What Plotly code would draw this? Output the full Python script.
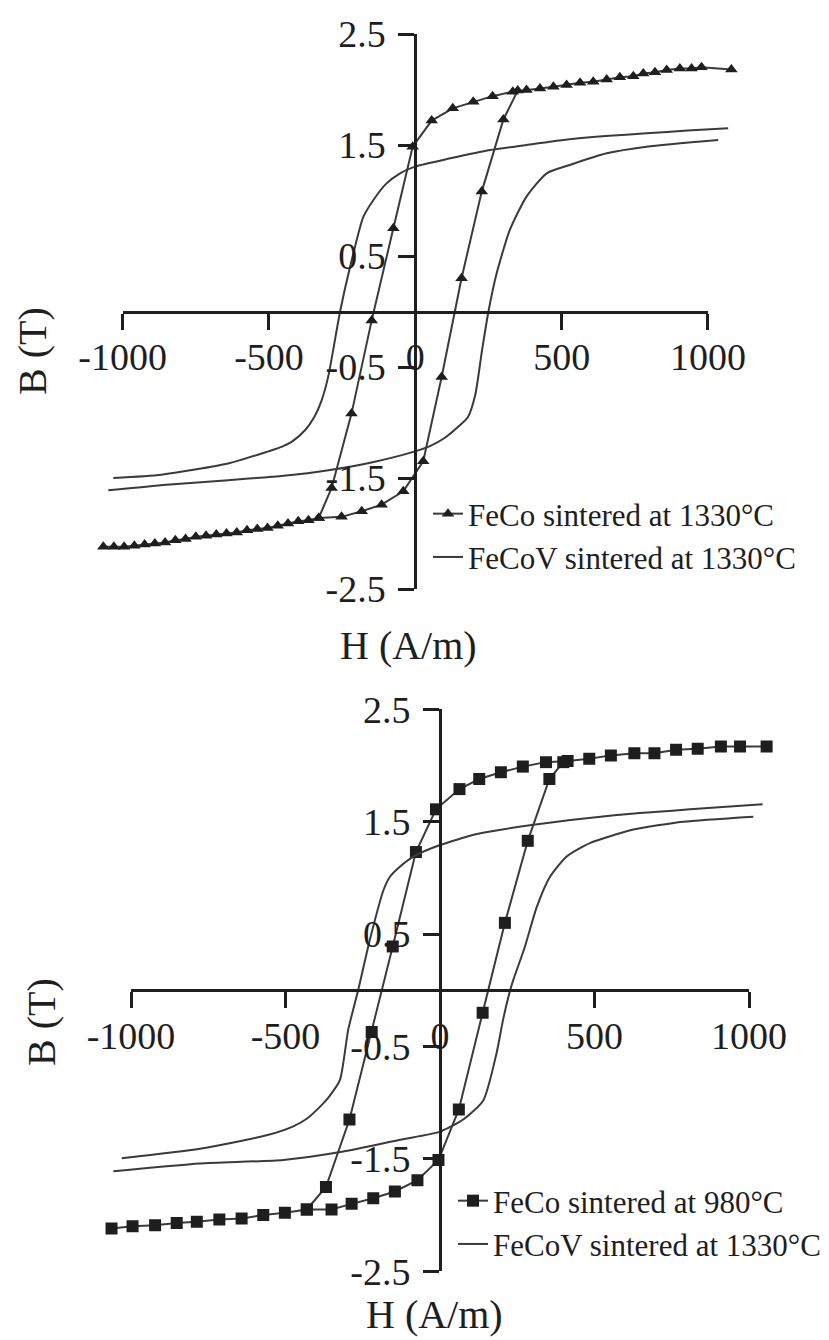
import plotly.graph_objects as go

# ---------------- data ----------------
# Top panel: FeCo sintered at 1330°C (triangles)
top_feco_desc_H = [1080, 978, 944, 904, 859, 819, 779, 745, 699, 654, 608, 563, 517, 472, 426, 380, 333, 264, 198, 128,
                   56, -9, -75, -149, -218, -286, -330, -365, -400, -435, -470, -505, -540, -575, -610, -645, -680, -715,
                   -750, -785, -820, -855, -890, -925, -960, -995, -1030, -1066]
top_feco_desc_B = [2.18, 2.20, 2.19, 2.19, 2.175, 2.155, 2.145, 2.12, 2.11, 2.09, 2.07, 2.06, 2.04, 2.025, 2.01, 1.995, 1.98,
                   1.94, 1.89, 1.83, 1.72, 1.485, 0.75, -0.08, -0.92, -1.59, -1.86, -1.88, -1.89, -1.91, -1.93, -1.95, -1.96,
                   -1.97, -1.99, -2.00, -2.01, -2.02, -2.03, -2.05, -2.06, -2.08, -2.09, -2.10, -2.11, -2.12, -2.12, -2.12]
top_feco_asc_H = [-330, -252, -183, -115, -41, 27, 90, 158, 227, 301, 350]
top_feco_asc_B = [-1.86, -1.85, -1.80, -1.74, -1.62, -1.35, -0.59, 0.30, 1.08, 1.73, 1.99]

# Top panel: FeCoV sintered at 1330°C (line)
top_fecov_desc_H = [1069, 930, 790, 650, 506, 380, 255, 120, -1, -52, -100, -143, -178, -223, -257, -297, -320, -345,
                    -377, -420, -457, -502, -640, -867, -1032]
top_fecov_desc_B = [1.65, 1.63, 1.605, 1.58, 1.545, 1.50, 1.455, 1.38, 1.305, 1.245, 1.15, 1.005, 0.85, 0.40, 0.0, -0.58,
                    -0.80, -0.95, -1.07, -1.17, -1.22, -1.26, -1.37, -1.47, -1.50]
top_fecov_asc_H = [-1049, -850, -639, -450, -297, -150, -1, 52, 100, 150, 180, 205, 228, 250, 278, 323, 380, 449, 528,
                   654, 790, 1035]
top_fecov_asc_B = [-1.61, -1.56, -1.52, -1.48, -1.43, -1.36, -1.26, -1.21, -1.14, -1.03, -0.95, -0.75, -0.35, 0.0, 0.344,
                   0.735, 1.035, 1.245, 1.32, 1.425, 1.485, 1.545]

# Bottom panel: FeCo sintered at 980°C (squares)
bot_feco_desc_H = [1057, 971, 909, 834, 764, 694, 629, 553, 483, 413, 343, 268, 197, 127, 63, -13, -78, -153, -221, -293,
                   -369, -431, -502, -572, -642, -714, -787, -852, -922, -995, -1063]
bot_feco_desc_B = [2.17, 2.17, 2.17, 2.15, 2.14, 2.11, 2.11, 2.09, 2.06, 2.04, 2.03, 1.99, 1.94, 1.88, 1.79, 1.61, 1.23,
                   0.39, -0.37, -1.15, -1.75, -1.95, -1.98, -2.00, -2.03, -2.04, -2.06, -2.07, -2.09, -2.10, -2.12]
bot_feco_asc_H = [-431, -351, -286, -216, -146, -73, -5, 61, 138, 210, 284, 354, 399]
bot_feco_asc_B = [-1.95, -1.95, -1.90, -1.85, -1.79, -1.69, -1.51, -1.06, -0.20, 0.60, 1.33, 1.88, 2.03]

# Bottom panel: FeCoV sintered at 1330°C (line)
bot_fecov_desc_H = [1044, 809, 572, 297, 120, -2, -86, -130, -162, -183, -227, -265, -297, -324, -360, -388, -430, -475,
                    -561, -777, -1030]
bot_fecov_desc_B = [1.655, 1.61, 1.56, 1.47, 1.39, 1.29, 1.19, 1.10, 1.01, 0.89, 0.45, 0.0, -0.35, -0.80, -0.95, -1.035,
                    -1.14, -1.21, -1.29, -1.41, -1.495]
bot_fecov_asc_H = [-1057, -777, -507, -313, -129, -2, 75, 140, 183, 205, 227, 237, 275, 313, 356, 410, 485, 626, 787, 1014]
bot_fecov_asc_B = [-1.61, -1.54, -1.51, -1.435, -1.33, -1.26, -1.15, -0.98, -0.56, -0.25, 0.0, 0.09, 0.39, 0.74, 1.01,
                   1.19, 1.31, 1.43, 1.50, 1.545]

x_tick_vals = [-1000, -500, 0, 500, 1000]
x_tick_text = ["-1000", "-500", "0", "500", "1000"]
y_tick_vals = [2.5, 1.5, 0.5, -0.5, -1.5, -2.5]
y_tick_text = ["2.5", "1.5", "0.5", "-0.5", "-1.5", "-2.5"]

top_names = ["FeCo sintered at 1330°C", "FeCoV sintered at 1330°C"]
bot_names = ["FeCo sintered at 980°C", "FeCoV sintered at 1330°C"]

# ---------------- layout geometry (pixels, in the 829x1340 window) ----------------
OFF = 8                      # default page-body margin
W, H = 829 - OFF, 1340 - OFF  # figure size so it fits the window
FONT = "Liberation Serif"
INK = "#1e1e1e"
LINE = "#3a3a3a"
DATA_XR = [-1150, 1150]
AX_XR = [-1000, 1000]
YR = [-2.5, 2.5]

panels = {
    "top": dict(x0=415.3, sx=0.29265, y0=311.5, sy=111.0),
    "bot": dict(x0=440.0, sx=0.309, y0=990.3, sy=112.4),
}


def fx(px):
    return (px - OFF) / W


def fy(py):
    return 1 - (py - OFF) / H


def geom(p):
    g = panels[p]
    ytop = g["y0"] - YR[1] * g["sy"]
    ybot = g["y0"] - YR[0] * g["sy"]
    return dict(
        ydom=[fy(ybot), fy(ytop)],
        data_xdom=[fx(g["x0"] + DATA_XR[0] * g["sx"]), fx(g["x0"] + DATA_XR[1] * g["sx"])],
        ax_xdom=[fx(g["x0"] + AX_XR[0] * g["sx"]), fx(g["x0"] + AX_XR[1] * g["sx"])],
        xpos=fy(g["y0"]),
        ypos=fx(g["x0"]),
    )


def join(a_h, a_b, b_h, b_b):
    return a_h + [None] + b_h, a_b + [None] + b_b


fig = go.Figure()

# top panel traces
h, b = join(top_feco_desc_H, top_feco_desc_B, top_feco_asc_H, top_feco_asc_B)
fig.add_trace(go.Scatter(x=h, y=b, mode="lines+markers", name=top_names[0], xaxis="x", yaxis="y",
                         line=dict(color=LINE, width=2), marker=dict(symbol="triangle-up", size=11, color=INK),
                         legend="legend", connectgaps=False))
h, b = join(top_fecov_desc_H, top_fecov_desc_B, top_fecov_asc_H, top_fecov_asc_B)
fig.add_trace(go.Scatter(x=h, y=b, mode="lines", name=top_names[1], xaxis="x", yaxis="y",
                         line=dict(color=LINE, width=2, shape="spline", smoothing=0.6),
                         legend="legend", connectgaps=False))
fig.add_trace(go.Scatter(x=[], y=[], xaxis="x2", yaxis="y", showlegend=False, hoverinfo="skip"))

# bottom panel traces
h, b = join(bot_feco_desc_H, bot_feco_desc_B, bot_feco_asc_H, bot_feco_asc_B)
fig.add_trace(go.Scatter(x=h, y=b, mode="lines+markers", name=bot_names[0], xaxis="x3", yaxis="y2",
                         line=dict(color=LINE, width=2), marker=dict(symbol="square", size=12, color=INK),
                         legend="legend2", connectgaps=False))
h, b = join(bot_fecov_desc_H, bot_fecov_desc_B, bot_fecov_asc_H, bot_fecov_asc_B)
fig.add_trace(go.Scatter(x=h, y=b, mode="lines", name=bot_names[1], xaxis="x3", yaxis="y2",
                         line=dict(color=LINE, width=2, shape="spline", smoothing=0.6),
                         legend="legend2", connectgaps=False))
fig.add_trace(go.Scatter(x=[], y=[], xaxis="x4", yaxis="y2", showlegend=False, hoverinfo="skip"))

gt = geom("top")
gb = geom("bot")

tickfont = dict(family=FONT, size=38, color=INK)
common_ax = dict(showgrid=False, zeroline=False, showline=True, linecolor=INK, linewidth=3,
                 ticks="outside", tickcolor=INK, tickwidth=3, ticklen=16, tickfont=tickfont, fixedrange=True)


def xaxis_display(dom, pos):
    return dict(domain=dom, range=AX_XR, autorange=False, anchor="free", position=pos, side="bottom",
                tickmode="array", tickvals=x_tick_vals, ticktext=x_tick_text, ticklabelstandoff=-5, **common_ax)


def yaxis_display(dom, pos):
    return dict(domain=dom, range=YR, autorange=False, anchor="free", position=pos, side="left",
                tickmode="array", tickvals=y_tick_vals, ticktext=y_tick_text, ticklabelstandoff=5, **common_ax)


hidden_x = dict(range=DATA_XR, autorange=False, visible=False, showgrid=False, zeroline=False, fixedrange=True)

legend_font = dict(family=FONT, size=31, color=INK)
fig.update_layout(
    width=W, height=H, autosize=False,
    margin=dict(l=0, r=0, t=0, b=0, pad=0, autoexpand=False),
    paper_bgcolor="white", plot_bgcolor="rgba(0,0,0,0)",
    font=dict(family=FONT, color=INK),
    xaxis=dict(domain=gt["data_xdom"], anchor="y", **hidden_x),
    xaxis2=xaxis_display(gt["ax_xdom"], gt["xpos"]),
    yaxis=yaxis_display(gt["ydom"], gt["ypos"]),
    xaxis3=dict(domain=gb["data_xdom"], anchor="y2", **hidden_x),
    xaxis4=xaxis_display(gb["ax_xdom"], gb["xpos"]),
    yaxis2=yaxis_display(gb["ydom"], gb["ypos"]),
    legend=dict(x=fx(428), y=fy(487), xanchor="left", yanchor="top", bgcolor="rgba(0,0,0,0)",
                font=legend_font, tracegroupgap=0, itemwidth=30),
    legend2=dict(x=fx(453), y=fy(1174), xanchor="left", yanchor="top", bgcolor="rgba(0,0,0,0)",
                 font=legend_font, tracegroupgap=0, itemwidth=30),
    showlegend=True,
)

title_font = dict(family=FONT, size=40, color=INK)
annots = [
    dict(text="B (T)", x=fx(32), y=fy(351), textangle=-90),
    dict(text="H (A/m)", x=fx(408), y=fy(645), textangle=0),
    dict(text="B (T)", x=fx(41), y=fy(1022), textangle=-90),
    dict(text="H (A/m)", x=fx(434), y=fy(1314), textangle=0),
]
for a in annots:
    fig.add_annotation(xref="paper", yref="paper", xanchor="center", yanchor="middle", showarrow=False,
                       font=title_font, **a)

fig.write_html("out.html")
